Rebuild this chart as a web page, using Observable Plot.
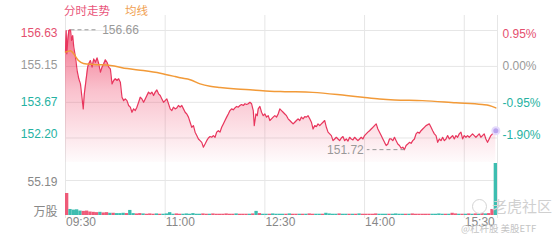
<!DOCTYPE html>
<html><head><meta charset="utf-8">
<script src="https://cdn.jsdelivr.net/npm/d3@7"></script>
<script src="https://cdn.jsdelivr.net/npm/@observablehq/plot@0.6"></script>
<style>
body{margin:0;background:#fff;}
#wrap{position:relative;width:560px;height:240px;overflow:hidden;font-family:"Liberation Sans",Arial,sans-serif;background:#fff;}
#wrap svg{position:absolute;left:0;}
.t{position:absolute;font-family:"Noto Sans CJK SC",sans-serif;white-space:nowrap;}
</style></head><body>
<div id="wrap">
  <div class="t" style="left:64px;top:2px;font-size:11.5px;line-height:16px;color:#e9557a;">分时走势</div>
  <div class="t" style="left:125px;top:2px;font-size:11.5px;line-height:16px;color:#f0a050;">均线</div>
</div>
<script>
// ---- data ----
const minutes = [0,0.6,1.2,2,3,4.5,5.5,6.5,7.5,9,10.5,12,13.5,16,17,18.5,20,21,22.5,24,25.5,27,28.5,30,31.5,33,34.5,36,37.5,39,40.5,42,43.5,45,46.5,48,49.5,51,52.5,54,55.5,57,58.5,60,61.5,63,64.5,66,67.5,69,70.5,72,73.5,75,76.5,78,79.5,81,82.5,84,85.5,87,88.5,90,91.5,93,
94.5,96,97.5,99,100.5,102,103.5,105,106.5,108,109.5,111,112.5,114,115.5,117,118.5,120,121.5,123,124.5,126,127.5,129,130.5,132,133.5,135,136.5,138,139.5,141,142.5,144,145.5,147,148.5,150,151.5,153,154.5,156,157.5,159,160.5,162,163.5,165,166.5,168,169.5,170.4,171.9,173.1,174,175.5,177,178.5,180,181.5,183,184.5,186,187.5,189,190.5,192,
193.5,195,196.5,198,199.5,201,202.5,204,205.5,207,208.5,210,211.5,213,214.5,216,217.5,219,220.5,222,223.5,225,226.5,228,229.5,231,232.5,234,235.5,237,238.5,240,241.5,243,244.5,246,247.5,249,250.5,252,253.5,255,256.5,258,259.5,261,262.5,264,265.5,267,268.5,270,271.5,273,274.5,276,277.5,279,280.5,282,283.5,285,286.5,288,289.5,291,
292.5,294,295.5,297,298.5,300,301.5,303,304.5,306,307.5,309,310.5,312,313.5,315,316.5,318,319.5,321,322.5,324,325.5,327,328.5,330,331.5,333,334.5,336,337.5,339,340.5,342,343.5,345,346.5,348,349.5,351,352.5,354,355.5,357,358.5,360,361.5,363,364.5,366,367.5,369,370.5,372,373.5,375,376.5,378,379.5,381,382.5,384,385.5,387,388.5];
const prices = [155.74,156.63,155.67,156.22,156.63,156.66,156.22,156.42,155.94,155.53,154.98,154.64,154.43,153.40,154.02,154.57,155.12,155.26,155.39,155.12,155.46,155.32,155.50,155.26,154.91,155.12,155.26,155.42,155.32,155.12,155.05,154.43,154.57,154.64,154.57,154.64,154.50,153.88,153.74,153.81,153.74,153.54,153.47,153.26,153.40,153.33,153.47,153.67,153.88,153.81,153.67,153.81,153.95,154.09,154.02,154.09,153.95,154.09,154.18,154.02,153.95,153.81,153.67,153.74,153.81,153.61,
153.40,153.33,153.47,153.40,153.44,153.54,153.47,153.54,153.40,153.26,153.19,153.06,152.85,152.64,152.71,152.44,152.30,152.16,152.09,152.02,151.82,151.95,152.09,152.20,152.26,152.23,152.30,152.23,152.44,152.50,152.44,152.64,152.78,152.92,153.06,153.19,153.33,153.40,153.36,153.44,153.50,153.47,153.54,153.58,153.54,153.61,153.58,153.61,153.67,153.61,153.33,152.71,153.19,153.12,153.40,153.50,153.26,153.12,153.19,153.06,153.12,152.92,152.99,153.06,153.12,153.06,153.19,
153.40,153.33,153.26,153.19,153.12,152.99,152.92,152.85,152.78,152.85,152.92,152.99,152.92,153.06,152.99,153.08,153.06,153.12,152.99,152.85,152.57,152.71,152.67,152.78,152.71,152.78,152.85,152.92,152.64,152.44,152.37,152.30,152.09,152.16,152.23,152.16,152.09,152.20,152.26,152.09,152.16,152.07,152.23,152.16,152.12,152.23,152.16,152.09,152.16,152.23,152.16,152.30,152.37,152.44,152.50,152.57,152.64,152.71,152.78,152.57,152.44,152.30,152.16,152.02,151.89,151.95,
152.16,152.16,152.09,152.23,152.09,151.95,151.89,151.78,151.82,151.72,151.89,151.95,152.02,151.98,152.09,152.16,152.37,152.44,152.40,152.50,152.57,152.64,152.71,152.75,152.78,152.64,152.50,152.37,152.30,152.02,152.16,152.09,152.23,152.09,152.16,152.30,152.16,152.23,152.30,152.16,152.30,152.23,152.37,152.44,152.16,152.30,152.23,152.30,152.23,152.30,152.37,152.30,152.23,152.30,152.37,152.23,152.30,152.37,152.16,152.02,152.16,152.30,152.37,152.44,152.50];
const avgMinutes = [0,4.5,7.2,11.7,16.2,25.2,40.5,55.8,70.2,85.5,99,103.5,112.5,121.5,130.5,139.5,154.5,169.2,184.5,198,223.2,253.5,268.2,283.5,297,322.2,352.5,376.2,382.5,388.5];
const avgPrices = [155.74,155.80,155.68,155.39,155.27,155.23,155.19,155.06,154.98,154.87,154.73,154.68,154.60,154.43,154.33,154.28,154.22,154.18,154.13,154.11,154.08,153.95,153.88,153.81,153.77,153.74,153.65,153.58,153.54,153.44];
// volumes (万股), one bar per 3 minutes, and up(r)/down(g) flags
const volumes = [34.7,9.5,8.5,9,7,6.5,7,5.5,5,4.5,
 5,4,4.5,3.5,3.5,3,3,3.5,3,8,
 3,2.5,3,2.5,2,2.5,2,2.5,2,2,
 2.5,4.5,2,2.5,2,2,2.5,2,3,2,
 2,2.5,2,2,2.5,2,2,2,2.5,2,
 2,2.5,2,2,2,2,2.5,6.5,3,2,
 2,2,2.5,2,2,2,2,2.5,2,2,
 2,2,2,2.5,2,2,2,2,3.5,2.5,
 2,2,2.5,2,2,2,2,2,2.5,2,
 2,2,2,2.5,2,2,2,2,2,2.5,
 2,2,2,2,2.5,2,2,2,2,2,
 2,2,2.5,2,2,2,3.5,2.5,2,2,
 2,2.5,2,2.5,2,3,2.5,3,9.5,82];
const volDirs = "rggggrrrrr"+"grrgrgggrg"+"grrgrrrgrg"+"gggrrggggg"+"grrgrrrrrr"+"rgrrrgrgrg"+"grggggrgrr"+"grgrrggrgg"+"ggrggrgrgr"+"rrrrgggrgg"+"ggrgrrrrrr"+"ggggrgrrgr"+"grgrgrgrrg";
const volStarts = d3.range(0, 390, 3);
const priceTicks = [156.63,155.15,153.67,152.20];
const priceTickLabels = ["156.63","155.15","153.67","152.20"];
const pctLabels = ["0.95%","0.00%","-0.95%","-1.90%"];
const volTick = 55.19;
const timeTicks = [0,90,180,270,360];
const timeLabels = ["09:30","11:00","12:30","14:00","15:30"];
const gridMinutes = [0,90,180,270,360,390];

// ---- styling ----
const GRID = "#e6e6e6";
const RED = "#e8365d", ORANGE = "#f29a38";
const labelColors = ["#e5506f","#999999","#26b2a2","#26b2a2"];
const labelDy = [3,-1,0,-4];
const priceFloor = 151.19;

const priceData = minutes.map((m,i)=>({m, p: prices[i]}));
const avgData = avgMinutes.map((m,i)=>({m, p: avgPrices[i]}));
const iMax = d3.maxIndex(prices), iMin = d3.minIndex(prices);
const last = priceData[priceData.length-1];

const labelMarks = [];
priceTicks.forEach((t,i)=>{
  labelMarks.push(Plot.text([t],{y:d=>d, frameAnchor:"left", dx:-8, dy:labelDy[i], textAnchor:"end", text:()=>priceTickLabels[i], fill:labelColors[i]}));
  labelMarks.push(Plot.text([t],{y:d=>d, frameAnchor:"right", dx:5, dy:labelDy[i]+1, textAnchor:"start", text:()=>pctLabels[i], fill:labelColors[i]}));
});

const p1 = Plot.plot({
  width:560, height:162, marginLeft:65, marginRight:63, marginTop:30, marginBottom:0,
  x:{domain:[0,390], axis:null},
  y:{domain:[priceFloor,156.63], axis:null},
  style:{background:"transparent", fontFamily:"Liberation Sans, Arial, sans-serif", fontSize:"12px", overflow:"visible"},
  marks:[
    Plot.ruleY(priceTicks,{stroke:GRID}),
    Plot.ruleX(gridMinutes,{stroke:GRID, insetTop:-15}),
    Plot.areaY(priceData,{x:"m", y1:priceFloor, y2:"p", fill:"url(#pgrad)"}),
    Plot.line(priceData,{x:"m", y:"p", stroke:RED, strokeWidth:1.2}),
    Plot.line(avgData,{x:"m", y:"p", stroke:ORANGE, strokeWidth:1.5, curve:"monotone-x"}),
    Plot.link([priceData[iMax]],{x1:"m", x2:d=>d.m+25, y1:"p", y2:"p", stroke:"#999", strokeDasharray:"4,3"}),
    Plot.text([priceData[iMax]],{x:d=>d.m+25, y:"p", dx:4, textAnchor:"start", text:d=>d.p.toFixed(2), fill:"#999"}),
    Plot.link([priceData[iMin]],{x1:"m", x2:d=>d.m-34, y1:"p", y2:"p", stroke:"#999", strokeDasharray:"4,3"}),
    Plot.text([priceData[iMin]],{x:d=>d.m-34, y:"p", dx:-3, dy:1, textAnchor:"end", text:d=>d.p.toFixed(2), fill:"#999"}),
    Plot.dot([last],{x:"m", y:"p", r:3.5, fill:"#b9a4ee", stroke:"#e4dafb", strokeWidth:2}),
    ...labelMarks
  ]
});
d3.select(p1).style("top","0px").insert("defs",":first-child").html(
  '<linearGradient id="pgrad" gradientUnits="userSpaceOnUse" x1="0" y1="30" x2="0" y2="162">'+
  '<stop offset="0" stop-color="#ee3d62" stop-opacity="0.75"/>'+
  '<stop offset="0.45" stop-color="#ee3d62" stop-opacity="0.32"/>'+
  '<stop offset="1" stop-color="#ee3d62" stop-opacity="0.02"/></linearGradient>');

const volData = volumes.map((v,i)=>({m: volStarts[i], v, up: volDirs[i]==="r"}));
const p2 = Plot.plot({
  width:560, height:78, marginLeft:65, marginRight:63, marginTop:18, marginBottom:25,
  x:{domain:[0,390], axis:null},
  y:{domain:[0,volTick], axis:null},
  style:{background:"transparent", fontFamily:"Liberation Sans, Arial, sans-serif", fontSize:"12px", overflow:"visible"},
  marks:[
    Plot.ruleY([volTick],{stroke:GRID}),
    Plot.ruleX(gridMinutes,{stroke:GRID, insetTop:-18, insetBottom:-3}),
    Plot.rectY(volData,{x1:"m", x2:d=>d.m+3, y1:0, y2:"v", fill:d=>d.up?"#ee5a78":"#3dbdb0"}),
    Plot.text([volTick],{y:d=>d, frameAnchor:"left", dx:-8, dy:2, textAnchor:"end", text:d=>d.toFixed(2), fill:"#888"}),
    Plot.text(["万股"],{y:()=>0, frameAnchor:"left", dx:-8, dy:-3, textAnchor:"end", text:d=>d, fill:"#888", fontFamily:"Noto Sans CJK SC"}),
    Plot.text(timeTicks,{x:d=>d, frameAnchor:"bottom", dx:0.5, dy:10, textAnchor:"start", text:(d,i)=>timeLabels[i], fill:"#888"})
  ]
});
d3.select(p2).style("top","162px");

const wrap = document.getElementById("wrap");
wrap.insertBefore(p2, wrap.firstChild);
wrap.insertBefore(p1, wrap.firstChild);

// watermark
const wm = document.createElement("div");
wm.innerHTML = '<div style="position:absolute;left:472px;top:199px;width:13px;height:13px;border:1.5px solid #d4d4d4;border-radius:50%;"></div>'+
  '<div class="t" style="left:492px;top:197px;font-size:15px;line-height:18px;color:#d0d0d0;">老虎社区</div>'+
  '<div class="t" style="left:461px;top:222px;font-size:9.5px;line-height:12px;color:#c4c4c4;">@杠杆股 美股ETF</div>';
wrap.appendChild(wm);
</script>
</body></html>
